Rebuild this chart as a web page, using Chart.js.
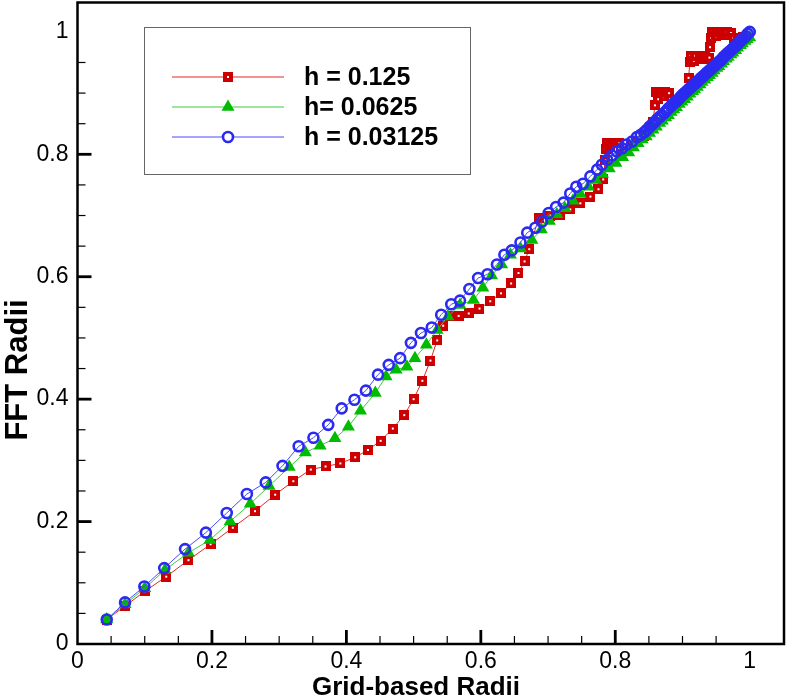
<!DOCTYPE html>
<html lang="en">
<head>
<meta charset="UTF-8">
<title>FFT Radii x Grid-based Radii</title>
<script src="https://cdn.jsdelivr.net/npm/chart.js"></script>
<style>
  body { margin: 0; background: #fff; }
  #area { position: relative; width: 786px; height: 700px; }
</style>
</head>
<body>
<div id="area"><canvas id="grafico"></canvas></div>
<script>
// valores (raio da grade x raio FFT)
const ticksEixo = [0, 0.2, 0.4, 0.6, 0.8, 1];
const nomesSeries = ['h = 0.125', 'h= 0.0625', 'h = 0.03125'];

const redX = [0.0435, 0.0707, 0.100, 0.132, 0.165, 0.198, 0.231, 0.264, 0.294, 0.321,
  0.347, 0.369, 0.391, 0.413, 0.432, 0.451, 0.469, 0.486, 0.500, 0.513,
  0.525, 0.535, 0.544, 0.554, 0.567, 0.582, 0.598, 0.614, 0.630, 0.645,
  0.656, 0.665, 0.672, 0.686, 0.703, 0.718, 0.733, 0.748, 0.763, 0.775,
  0.782, 0.785, 0.786, 0.787, 0.792, 0.794, 0.800, 0.806, 0.808, 0.815,
  0.824, 0.833, 0.842, 0.850, 0.856, 0.859, 0.861, 0.864, 0.867, 0.872,
  0.874, 0.880, 0.884, 0.890, 0.897, 0.904, 0.909, 0.911, 0.912, 0.917,
  0.919, 0.926, 0.930, 0.934, 0.940, 0.941, 0.943, 0.944, 0.950, 0.952,
  0.958, 0.962, 0.966, 0.972, 0.976, 0.983, 0.990];
const redY = [0.040, 0.062, 0.086, 0.110, 0.137, 0.163, 0.190, 0.217, 0.244, 0.266,
  0.285, 0.290, 0.295, 0.305, 0.317, 0.332, 0.352, 0.374, 0.400, 0.430,
  0.463, 0.496, 0.520, 0.536, 0.536, 0.540, 0.548, 0.560, 0.573, 0.589,
  0.606, 0.625, 0.645, 0.696, 0.700, 0.701, 0.710, 0.720, 0.731, 0.743,
  0.759, 0.790, 0.808, 0.819, 0.812, 0.819, 0.819, 0.818, 0.800, 0.805,
  0.813, 0.821, 0.830, 0.840, 0.852, 0.880, 0.901, 0.890, 0.901, 0.895,
  0.901, 0.900, 0.880, 0.882, 0.890, 0.898, 0.925, 0.950, 0.961, 0.953,
  0.961, 0.961, 0.955, 0.961, 0.958, 0.975, 0.990, 1.000, 0.993, 1.000,
  1.000, 0.995, 1.000, 0.998, 0.990, 0.988, 0.992];

const greenX = [0.0435, 0.0707, 0.100, 0.130, 0.165, 0.197, 0.227, 0.257, 0.285, 0.315,
  0.339, 0.361, 0.383, 0.403, 0.421, 0.443, 0.459, 0.474, 0.490, 0.502,
  0.519, 0.535, 0.551, 0.569, 0.589, 0.603, 0.616, 0.631, 0.644, 0.659,
  0.676, 0.690, 0.702, 0.713, 0.725, 0.737, 0.748, 0.760, 0.771, 0.781,
  0.791, 0.801, 0.811, 0.820, 0.827, 0.834, 0.840, 0.846, 0.851, 0.856,
  0.861, 0.866, 0.870, 0.875, 0.879, 0.883, 0.887, 0.891, 0.895, 0.899,
  0.903, 0.907, 0.911, 0.915, 0.918, 0.922, 0.926, 0.929, 0.933, 0.937,
  0.940, 0.944, 0.947, 0.951, 0.954, 0.958, 0.961, 0.965, 0.968, 0.972,
  0.975, 0.979, 0.982, 0.986, 0.989, 0.993, 0.996, 1.000];
const greenY = [0.040, 0.065, 0.091, 0.121, 0.149, 0.170, 0.200, 0.229, 0.258, 0.289,
  0.313, 0.324, 0.336, 0.355, 0.381, 0.410, 0.437, 0.448, 0.453, 0.467,
  0.489, 0.513, 0.535, 0.554, 0.562, 0.582, 0.602, 0.620, 0.636, 0.646,
  0.660, 0.677, 0.691, 0.702, 0.712, 0.724, 0.735, 0.747, 0.758, 0.768,
  0.777, 0.786, 0.795, 0.803, 0.811, 0.818, 0.824, 0.829, 0.835, 0.840,
  0.845, 0.851, 0.855, 0.860, 0.864, 0.869, 0.873, 0.877, 0.882, 0.886,
  0.890, 0.894, 0.899, 0.903, 0.906, 0.910, 0.914, 0.918, 0.922, 0.926,
  0.929, 0.933, 0.937, 0.941, 0.944, 0.948, 0.952, 0.956, 0.959, 0.963,
  0.966, 0.970, 0.974, 0.978, 0.981, 0.985, 0.988, 0.991];

const blueX = [0.0435, 0.0707, 0.0994, 0.129, 0.160, 0.191, 0.222, 0.252, 0.280, 0.305,
  0.329, 0.351, 0.373, 0.393, 0.412, 0.429, 0.447, 0.463, 0.480, 0.496,
  0.511, 0.527, 0.541, 0.556, 0.569, 0.583, 0.596, 0.610, 0.624, 0.635,
  0.646, 0.659, 0.669, 0.681, 0.691, 0.701, 0.712, 0.723, 0.733, 0.742,
  0.752, 0.763, 0.773, 0.780, 0.788, 0.795, 0.802, 0.810, 0.817, 0.825,
  0.832, 0.838, 0.843, 0.847, 0.851, 0.855, 0.859, 0.862, 0.866, 0.869,
  0.873, 0.876, 0.879, 0.883, 0.886, 0.889, 0.892, 0.895, 0.898, 0.901,
  0.904, 0.907, 0.910, 0.913, 0.916, 0.919, 0.922, 0.925, 0.928, 0.931,
  0.934, 0.937, 0.940, 0.943, 0.946, 0.949, 0.952, 0.955, 0.958, 0.961,
  0.964, 0.967, 0.970, 0.973, 0.976, 0.979, 0.982, 0.985, 0.988, 0.991,
  0.994, 0.997, 1.000];
const blueY = [0.040, 0.068, 0.094, 0.124, 0.155, 0.182, 0.214, 0.245, 0.264, 0.291,
  0.323, 0.337, 0.358, 0.385, 0.399, 0.414, 0.440, 0.456, 0.467, 0.492,
  0.508, 0.517, 0.538, 0.555, 0.561, 0.580, 0.598, 0.604, 0.620, 0.636,
  0.643, 0.656, 0.672, 0.680, 0.690, 0.704, 0.714, 0.721, 0.736, 0.747,
  0.752, 0.764, 0.775, 0.783, 0.791, 0.798, 0.805, 0.810, 0.816, 0.821,
  0.828, 0.832, 0.836, 0.840, 0.845, 0.849, 0.853, 0.857, 0.861, 0.864,
  0.868, 0.871, 0.875, 0.879, 0.882, 0.885, 0.888, 0.891, 0.895, 0.898,
  0.901, 0.904, 0.907, 0.910, 0.913, 0.916, 0.919, 0.922, 0.925, 0.928,
  0.931, 0.934, 0.937, 0.940, 0.943, 0.946, 0.949, 0.952, 0.955, 0.959,
  0.962, 0.965, 0.968, 0.971, 0.974, 0.977, 0.980, 0.984, 0.987, 0.990,
  0.993, 0.997, 1.000];

function pares(xs, ys) {
  return xs.map(function (x, i) { return { x: x, y: ys[i] }; });
}

// marcador vermelho: quadrado cheio com um pontinho branco
function quadradoVermelho() {
  var c = document.createElement('canvas');
  c.width = 10; c.height = 10;
  var g = c.getContext('2d');
  g.fillStyle = '#cc0000';
  g.fillRect(0, 0, 10, 10);
  g.fillStyle = '#ffffff';
  g.fillRect(4, 4, 2, 2);
  return c;
}
const marcaVermelha = quadradoVermelho();

const fonte = '"Liberation Sans", Arial, sans-serif';

const molduraPlugin = {
  id: 'moldura',
  afterDraw(chart) {
    const ctx = chart.ctx;
    const a = chart.chartArea;
    const sx = chart.scales.x, sy = chart.scales.y;
    ctx.save();
    ctx.strokeStyle = '#000';
    ctx.lineWidth = 2.5;
    ctx.strokeRect(a.left, a.top, a.right - a.left, a.bottom - a.top);

    // marcas para dentro
    for (let k = 1; k < 20; k++) {
      const v = k * 0.05;
      const maior = k % 4 === 0;
      const len = maior ? 14 : 8;
      ctx.lineWidth = maior ? 2.8 : 1.2;
      const px = sx.getPixelForValue(v);
      ctx.beginPath(); ctx.moveTo(px, a.bottom); ctx.lineTo(px, a.bottom - len); ctx.stroke();
      const py = sy.getPixelForValue(v);
      ctx.beginPath(); ctx.moveTo(a.left, py); ctx.lineTo(a.left + len, py); ctx.stroke();
    }

    // titulos dos eixos
    ctx.fillStyle = '#000';
    ctx.textAlign = 'center';
    ctx.textBaseline = 'middle';
    ctx.font = 'bold 26px ' + fonte;
    ctx.fillText('Grid-based Radii', 416, 688);
    ctx.font = 'bold 31px ' + fonte;
    ctx.translate(18, 370);
    ctx.rotate(-Math.PI / 2);
    ctx.fillText('FFT Radii', 0, 0);
    ctx.restore();

    // legenda
    ctx.save();
    ctx.fillStyle = '#fff';
    ctx.fillRect(144, 27, 327, 147);
    ctx.strokeStyle = '#666';
    ctx.lineWidth = 1;
    ctx.strokeRect(144.5, 27.5, 326, 147);
    const linhas = [77, 107, 137];
    chart.data.datasets.slice().sort((p, q) => p.legendIndex - q.legendIndex).forEach(function (ds, i) {
      const y = linhas[i];
      ctx.strokeStyle = ds.borderColor;
      ctx.lineWidth = 1;
      ctx.beginPath(); ctx.moveTo(172, y); ctx.lineTo(284, y); ctx.stroke();
      if (i === 0) {
        ctx.drawImage(marcaVermelha, 228 - 5, y - 5);
      } else if (i === 1) {
        ctx.fillStyle = ds.pointBackgroundColor;
        ctx.beginPath();
        ctx.moveTo(228, y - 7.5); ctx.lineTo(234.5, y + 3.75); ctx.lineTo(221.5, y + 3.75);
        ctx.closePath(); ctx.fill();
      } else {
        ctx.fillStyle = '#fff';
        ctx.strokeStyle = ds.pointBorderColor;
        ctx.lineWidth = 2.6;
        ctx.beginPath(); ctx.arc(228, y, 5, 0, Math.PI * 2); ctx.fill(); ctx.stroke();
      }
      ctx.fillStyle = '#000';
      ctx.font = 'bold 25px ' + fonte;
      ctx.textAlign = 'left';
      ctx.textBaseline = 'middle';
      ctx.fillText(ds.label, 304, y + 1);
    });
    ctx.restore();
  }
};

const data = {
  datasets: [
    {
      label: nomesSeries[0],
      legendIndex: 0,
      data: pares(redX, redY),
      showLine: true,
      borderColor: '#e02828',
      borderWidth: 1,
      pointStyle: marcaVermelha,
      pointRadius: 5,
      order: 3
    },
    {
      label: nomesSeries[1],
      legendIndex: 1,
      data: pares(greenX, greenY),
      showLine: true,
      borderColor: '#3ccc3c',
      borderWidth: 1,
      pointStyle: 'triangle',
      pointRadius: 7.5,
      pointBackgroundColor: '#00bb00',
      pointBorderColor: '#00bb00',
      pointBorderWidth: 0,
      order: 2
    },
    {
      label: nomesSeries[2],
      legendIndex: 2,
      data: pares(blueX, blueY),
      showLine: true,
      borderColor: '#4a4aff',
      borderWidth: 1,
      pointStyle: 'circle',
      pointRadius: 5,
      pointBackgroundColor: 'rgba(255,255,255,0)',
      pointBorderColor: '#2a2af0',
      pointBorderWidth: 2.6,
      order: 1
    }
  ]
};

const eixoTicks = {
  color: '#000',
  font: { family: fonte, size: 23 },
  autoSkip: false,
  maxRotation: 0,
  callback: function (v) { return String(v); }
};

const config = {
  type: 'scatter',
  data: data,
  options: {
    responsive: true,
    maintainAspectRatio: false,
    animation: false,
    layout: { autoPadding: false, padding: { top: 2.5, right: 2, left: 0, bottom: 0 } },
    plugins: { legend: { display: false }, tooltip: { enabled: false } },
    scales: {
      x: {
        type: 'linear', min: 0, max: 1.051,
        grid: { display: false, drawTicks: false },
        border: { display: false },
        afterBuildTicks: function (s) { s.ticks = ticksEixo.map(v => ({ value: v })); },
        afterFit: function (s) {
          s.height = 56;
          s.paddingLeft = 0; s.paddingRight = 0;
        },
        ticks: Object.assign({ padding: 4 }, eixoTicks)
      },
      y: {
        type: 'linear', min: 0, max: 1.048,
        grid: { display: false, drawTicks: false },
        border: { display: false },
        afterBuildTicks: function (s) { s.ticks = ticksEixo.map(v => ({ value: v })); },
        afterFit: function (s) {
          s.width = 77.5;
          s.paddingTop = 0; s.paddingBottom = 0;
        },
        ticks: Object.assign({ padding: 9 }, eixoTicks)
      }
    }
  },
  plugins: [molduraPlugin]
};

const grafico = new Chart(document.getElementById('grafico'), config);
</script>
</body>
</html>
